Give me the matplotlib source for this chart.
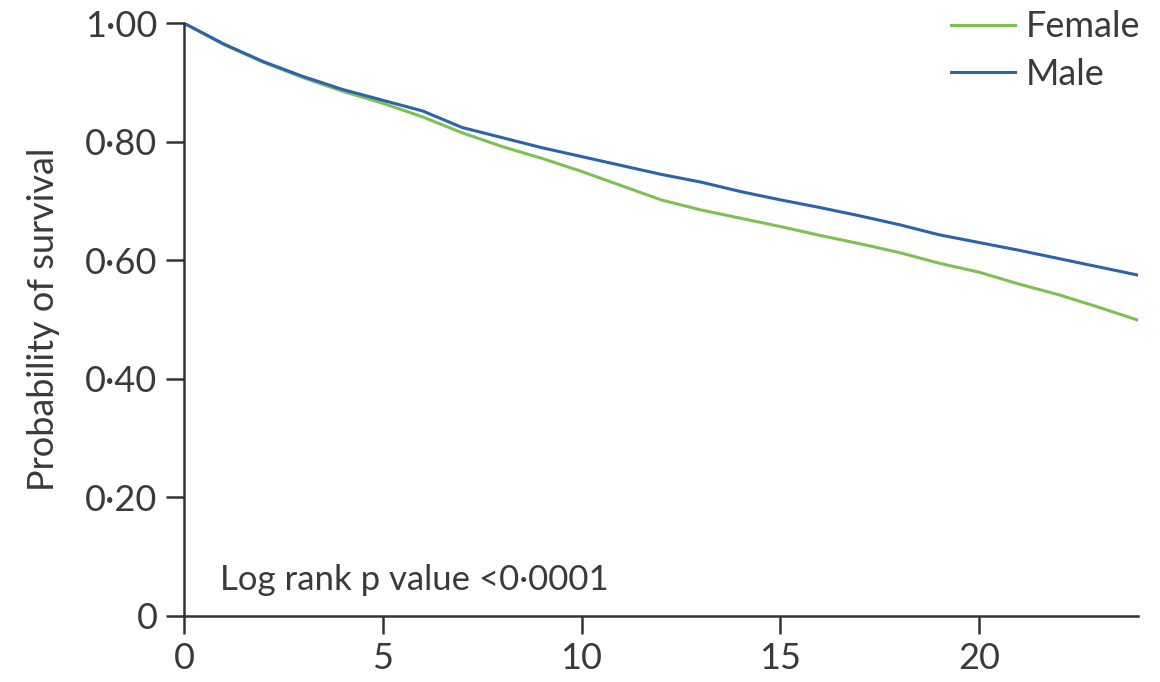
import matplotlib
matplotlib.use('Agg')
import matplotlib.pyplot as plt
from matplotlib.ticker import FixedLocator, FixedFormatter

plt.rcParams['font.family'] = ['Lato', 'DejaVu Sans']

# Kaplan-Meier curves
years = [0, 1, 2, 3, 4, 5, 6, 7, 8, 9, 10, 11, 12, 13, 14, 15, 16, 17, 18, 19, 20, 21, 22, 23, 24]
male = [1.0, 0.965, 0.935, 0.910, 0.888, 0.870, 0.852, 0.824, 0.807, 0.790, 0.775, 0.760, 0.745,
        0.732, 0.716, 0.702, 0.689, 0.675, 0.660, 0.643, 0.630, 0.617, 0.603, 0.589, 0.575]
female = [1.0, 0.964, 0.934, 0.908, 0.885, 0.865, 0.842, 0.815, 0.792, 0.772, 0.750, 0.726, 0.702,
          0.685, 0.671, 0.657, 0.642, 0.628, 0.613, 0.595, 0.580, 0.560, 0.542, 0.521, 0.499]

x_ticks = [0, 5, 10, 15, 20]
y_ticks = [0, 0.2, 0.4, 0.6, 0.8, 1.0]
y_labels = ['0', '0·20', '0·40', '0·60', '0·80', '1·00']
note = 'Log rank p value <0·0001'

txt = '#3a3a3a'
fs = 26

fig = plt.figure(figsize=(11.6, 6.82), dpi=100)
ax = fig.add_axes([0.1586, 0.0968, 0.8225, 0.8692])

ax.plot(years, female, color='#7cc152', linewidth=2.2, label='Female')
ax.plot(years, male, color='#2d62ad', linewidth=2.2, label='Male')

ax.set_xlim(0, 24)
ax.set_ylim(0, 1)
ax.xaxis.set_major_locator(FixedLocator(x_ticks))
ax.yaxis.set_major_locator(FixedLocator(y_ticks))
ax.yaxis.set_major_formatter(FixedFormatter(y_labels))

for s in ['top', 'right']:
    ax.spines[s].set_visible(False)
for s in ['left', 'bottom']:
    ax.spines[s].set_color('#333333')
    ax.spines[s].set_linewidth(1.8)
ax.tick_params(axis='both', direction='out', length=13, width=1.8, color='#333333',
               labelsize=fs, labelcolor=txt, pad=6)

ax.set_ylabel('Probability of survival', fontsize=fs, color=txt, labelpad=18)

ax.text(0.9, 0.06, note, fontsize=25, color=txt, va='center', ha='left')

leg = ax.legend(loc='upper right', bbox_to_anchor=(1.017, 1.046), frameon=False, fontsize=fs,
                handlelength=1.75, handletextpad=0.3, labelspacing=0.4, borderaxespad=0)
for t in leg.get_texts():
    t.set_color(txt)

fig.savefig('out.png', dpi=100)
